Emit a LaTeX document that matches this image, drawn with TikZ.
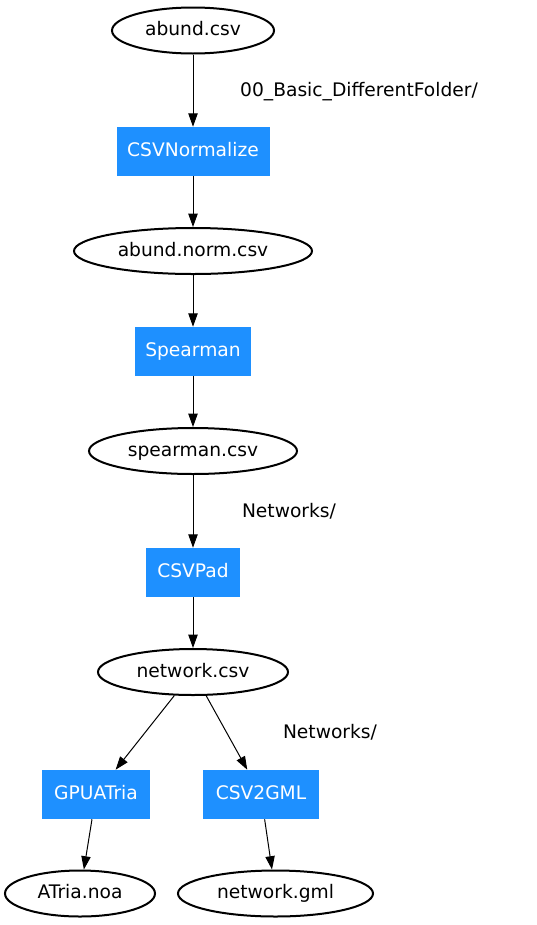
\documentclass[tikz,border=0pt]{standalone}
\usepackage{fontspec}
\setmainfont{DejaVu Sans}
\usetikzlibrary{shapes.geometric,arrows.meta}
\definecolor{procblue}{HTML}{1E90FF}
\tikzset{
  datafile/.style={ellipse, draw=black, line width=1.5pt, minimum height=34.5pt, inner sep=0pt, text height=10.5pt, text depth=3pt},
  plugin/.style={rectangle, fill=procblue, text=white, minimum height=36.75pt, inner sep=0pt, text height=10.5pt, text depth=3pt},
  folder/.style={inner sep=0pt, text height=10.5pt, text depth=3pt},
  flow/.style={draw=black, line width=0.75pt, -{Triangle[length=10pt,width=7pt]}}
}
\begin{document}
\begin{tikzpicture}[x=0.75pt, y=-0.75pt, font=\fontsize{14}{17}\selectfont]
% Fix the page size to the reference
\useasboundingbox (0,0) rectangle (536,925);

% Files and plugins of the pipeline
\node[datafile, minimum width=121.5pt] (abund) at (193, 30.5) {abund.csv};
\node[plugin, minimum width=114.75pt] (csvnorm) at (193, 151.5) {CSVNormalize};
\node[datafile, minimum width=178.5pt] (abundnorm) at (193, 251) {abund.norm.csv};
\node[plugin, minimum width=87pt] (spearman) at (193, 351.5) {Spearman};
\node[datafile, minimum width=156pt] (spearcsv) at (193, 451) {spearman.csv};
\node[plugin, minimum width=70.5pt] (csvpad) at (193, 572.5) {CSVPad};
\node[datafile, minimum width=142.5pt] (netcsv) at (193, 672) {network.csv};
\node[plugin, minimum width=81pt] (gpuatria) at (96, 794.5) {GPUATria};
\node[plugin, minimum width=87pt] (csv2gml) at (261, 794.5) {CSV2GML};
\node[datafile, minimum width=112.5pt] (atrianoa) at (80, 893.5) {ATria.noa};
\node[datafile, minimum width=146.25pt] (netgml) at (275.5, 893.5) {network.gml};

% Folder labels
\node[folder] (dirbasic) at (359, 91) {00\_Basic\_DifferentFolder/};
\node[folder] (dirnetA) at (289, 512) {Networks/};
\node[folder] (dirnetB) at (330, 733) {Networks/};

% Connectors
\draw[flow] (abund) -- (csvnorm);
\draw[flow] (csvnorm) -- (abundnorm);
\draw[flow] (abundnorm) -- (spearman);
\draw[flow] (spearman) -- (spearcsv);
\draw[flow] (spearcsv) -- (csvpad);
\draw[flow] (csvpad) -- (netcsv);
\draw[flow] (netcsv) -- (gpuatria);
\draw[flow] (netcsv) -- (csv2gml);
\draw[flow] (gpuatria) -- (atrianoa);
\draw[flow] (csv2gml) -- (netgml);
\end{tikzpicture}
\end{document}
